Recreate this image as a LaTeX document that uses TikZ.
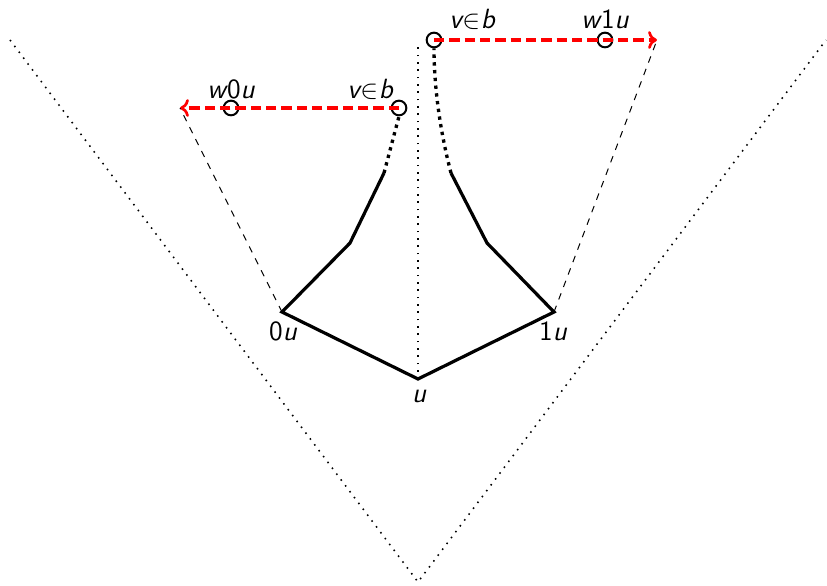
\documentclass[tikz,border=0pt]{standalone}
\usetikzlibrary{arrows.meta}
\begin{document}
\begin{tikzpicture}[x=0.45pt,y=-0.45pt,
  solidline/.style={line width=1.45pt,line join=miter},
  thickdots/.style={line width=1.5pt,dash pattern=on 1.5pt off 2pt},
  thindots/.style={line width=0.7pt,dash pattern=on 0.7pt off 2.6pt},
  reddash/.style={red,line width=1.5pt,dash pattern=on 4.6pt off 2.3pt,-{To[length=4pt,width=8pt,line width=1.2pt]}},
  thindash/.style={line width=0.45pt,dash pattern=on 3pt off 3pt},
  circ/.style={circle,draw,line width=0.9pt,minimum size=6.6pt,inner sep=0pt},
  lab/.style={inner sep=0pt,font=\sffamily\fontsize{12.5}{15}\selectfont}]
\useasboundingbox (0,0) rectangle (827,586);
% big V
\coordinate (vl) at (10,40);
\coordinate (vb) at (418,582);
\coordinate (vr) at (826,40);
\draw[thindots] (vl) -- (vb) -- (vr);
% main vertices
\coordinate (u) at (418,379);
\coordinate (zu) at (282,312);
\coordinate (ou) at (554,312);
\coordinate (l2) at (350,243);
\coordinate (l3) at (384,173);
\coordinate (r2) at (487,243);
\coordinate (r3) at (451,173);
\coordinate (top) at (418,43);
\node[circ] (cl) at (399,108) {};
\node[circ] (cr) at (434,40) {};
\node[circ] (w0) at (231,108) {};
\node[circ] (w1) at (605,40) {};
\coordinate (tl) at (180,108);
\coordinate (tr) at (657,40);
% vertical dotted
\draw[thindots] (u) -- (top);
% solid paths
\draw[solidline] (l3) -- (l2) -- (zu) -- (u) -- (ou) -- (r2) -- (r3);
% thick dotted
\draw[thickdots] (l3) -- (cl.south);
\draw[thickdots] (r3) .. controls (441,135) and (434,90) .. (cr.south);
% red arrows
\draw[reddash] (cl.center) -- (tl);
\draw[reddash] (cr.center) -- (tr);
% thin dashed
\draw[thindash] (zu) -- (tl);
\draw[thindash] (ou) -- (tr);
% labels
\node[lab] (lw0) at (231,89) {\itshape w\kern0.5pt\upshape 0\itshape u};
\node[lab] (lvl) at (370,89) {\itshape v\kern0.3pt$\in$\kern0.3pt b};
\node[lab] (lvr) at (472,19) {\itshape v\kern0.3pt$\in$\kern0.3pt b};
\node[lab] (lw1) at (605,19) {\itshape w\kern0.5pt\upshape 1\itshape u};
\node[lab] (l0u) at (283,331) {0\itshape u};
\node[lab] (l1u) at (553,331) {1\itshape u};
\node[lab] (lu) at (419,396) {\itshape u};
\end{tikzpicture}
\end{document}
